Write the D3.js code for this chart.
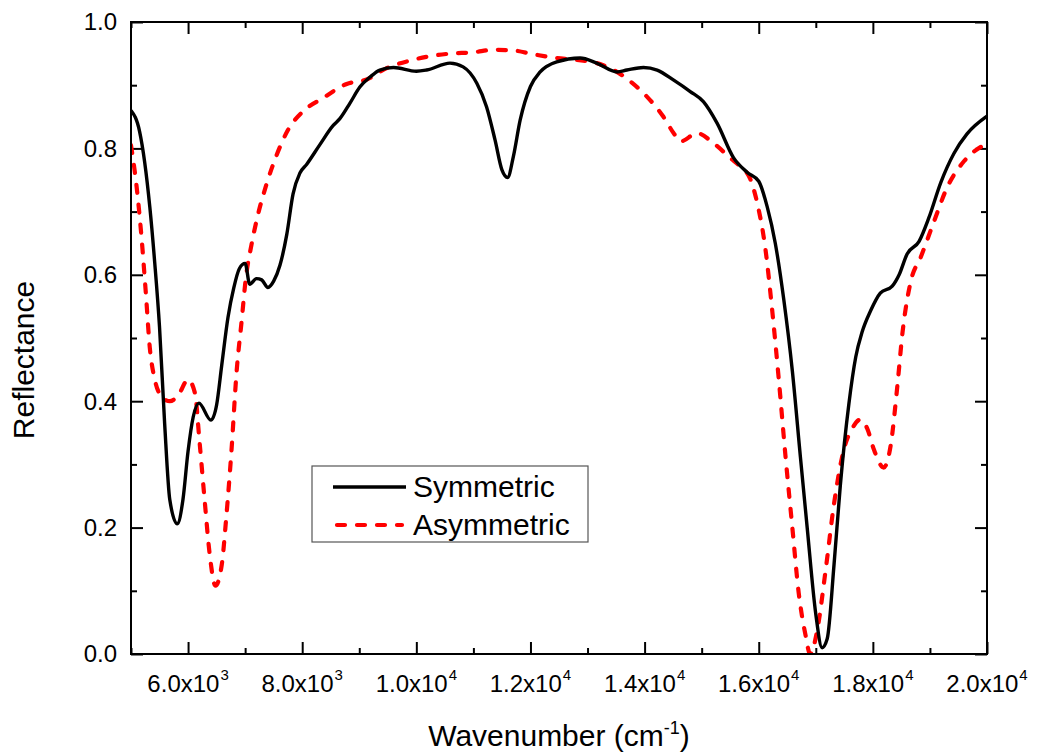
<!DOCTYPE html>
<html><head><meta charset="utf-8">
<script src="https://cdn.jsdelivr.net/npm/d3@7"></script>
<style>
body{margin:0;background:#fff}
text{font-family:"Liberation Sans",Arial,sans-serif;fill:#000}
</style>
</head><body>
<svg id="c" width="1037" height="755"></svg>
<script>
// ---- data ----
const symWn = [5000,5150,5330,5415,5500,5590,5680,5810,5910,6000,6090,6190,6400,6500,6590,6700,6800,6900,7000,7080,7200,7290,7400,7500,7610,7730,7840,7960,8080,8310,8540,8660,8840,9010,9190,9360,9600,10000,10180,10590,10820,11060,11230,11380,11500,11600,11700,11820,12000,12170,12460,12870,13160,13520,13690,13980,14220,14510,14800,15030,15270,15560,15800,16000,16150,16290,16440,16590,16730,16850,17000,17110,17200,17320,17430,17580,17700,17810,17960,18130,18340,18460,18600,18810,18980,19190,19420,19650,20000];
const symR  = [0.860,0.827,0.707,0.620,0.517,0.364,0.244,0.206,0.244,0.321,0.375,0.397,0.370,0.394,0.457,0.533,0.579,0.610,0.618,0.585,0.594,0.592,0.580,0.590,0.615,0.664,0.728,0.761,0.775,0.806,0.836,0.847,0.872,0.897,0.913,0.924,0.928,0.922,0.924,0.935,0.929,0.903,0.866,0.813,0.766,0.754,0.787,0.845,0.898,0.921,0.937,0.943,0.935,0.921,0.924,0.928,0.924,0.908,0.890,0.874,0.840,0.785,0.762,0.748,0.707,0.650,0.560,0.447,0.312,0.199,0.063,0.010,0.024,0.142,0.267,0.396,0.470,0.509,0.543,0.571,0.582,0.600,0.633,0.653,0.690,0.746,0.792,0.823,0.851];
const asymWn = [5000,5090,5180,5260,5330,5415,5530,5680,5825,6000,6120,6200,6290,6380,6480,6590,6670,6760,6850,6940,7010,7110,7230,7370,7550,7750,8020,8370,8780,9130,9480,9890,10180,10590,11000,11350,11700,12050,12460,12810,13160,13460,13750,14040,14330,14510,14630,14920,15210,15500,15680,15850,15970,16120,16230,16350,16470,16590,16700,16820,16900,17020,17170,17320,17490,17640,17780,17900,18020,18190,18310,18430,18520,18660,18840,19070,19300,19600,20000];
const asymR  = [0.805,0.746,0.664,0.571,0.484,0.435,0.408,0.400,0.409,0.434,0.413,0.337,0.244,0.157,0.108,0.141,0.217,0.321,0.446,0.528,0.593,0.647,0.697,0.742,0.789,0.829,0.859,0.880,0.902,0.909,0.927,0.939,0.945,0.950,0.952,0.956,0.955,0.949,0.943,0.940,0.935,0.924,0.906,0.882,0.850,0.824,0.811,0.824,0.808,0.785,0.771,0.752,0.715,0.639,0.549,0.436,0.312,0.199,0.097,0.030,0.000,0.035,0.131,0.238,0.323,0.357,0.371,0.357,0.323,0.295,0.329,0.425,0.509,0.588,0.628,0.684,0.738,0.780,0.808];
const xMajor = [6000,8000,10000,12000,14000,16000,18000,20000];
const xMinor = [5000,7000,9000,11000,13000,15000,17000,19000];
const yMajor = [0,0.2,0.4,0.6,0.8,1.0];
const yMinor = [0.1,0.3,0.5,0.7,0.9];
const seriesNames = ["Symmetric","Asymmetric"];
const xTitle = "Wavenumber (cm";
const yTitle = "Reflectance";

// ---- layout ----
const svg = d3.select("#c");
const m = {l:131, t:22, r:50, b:101};
const W = 1037 - m.l - m.r, H = 755 - m.t - m.b;
const x = d3.scaleLinear().domain([5000,20000]).range([0,W]);
const y = d3.scaleLinear().domain([0,1]).range([H,0]);
const g = svg.append("g").attr("transform",`translate(${m.l},${m.t})`);

svg.append("defs").append("clipPath").attr("id","clip")
  .append("rect").attr("x",0).attr("y",0).attr("width",W).attr("height",H);

// ---- ticks (inward) ----
function ticks(gen, vals, size, tr){
  const a = g.append("g").attr("transform",tr)
    .call(gen.tickValues(vals).tickSize(-size).tickFormat(""));
  a.select(".domain").remove();
  a.selectAll("line").attr("stroke","#000").attr("stroke-width",2);
}
ticks(d3.axisBottom(x), xMajor, 12, `translate(0,${H})`);
ticks(d3.axisBottom(x), xMinor, 6, `translate(0,${H})`);
ticks(d3.axisTop(x), xMajor, 12, `translate(0,0)`);
ticks(d3.axisTop(x), xMinor, 6, `translate(0,0)`);
ticks(d3.axisLeft(y), yMajor, 12, `translate(0,0)`);
ticks(d3.axisLeft(y), yMinor, 6, `translate(0,0)`);
ticks(d3.axisRight(y), yMajor, 12, `translate(${W},0)`);
ticks(d3.axisRight(y), yMinor, 6, `translate(${W},0)`);

// ---- tick labels ----
const xl = g.append("g").selectAll("text").data(xMajor).join("text")
  .attr("x",d=>x(d)).attr("y",H+38).attr("text-anchor","middle")
  .attr("font-size",24);
xl.each(function(d){
  const e = Math.floor(Math.log10(d));
  const mant = (d/Math.pow(10,e)).toFixed(1);
  const t = d3.select(this);
  t.append("tspan").text(mant+"x10");
  t.append("tspan").attr("font-size",15).attr("dy",-12).attr("dx",1).text(e);
});
g.append("g").selectAll("text").data(yMajor).join("text")
  .attr("x",-14).attr("y",d=>y(d)).attr("dy","0.35em")
  .attr("text-anchor","end").attr("font-size",24)
  .text(d=>d.toFixed(1));

// ---- axis titles ----
const xt = svg.append("text").attr("x",m.l+W/2).attr("y",746)
  .attr("text-anchor","middle").attr("font-size",30);
xt.append("tspan").text(xTitle);
xt.append("tspan").attr("font-size",18).attr("dy",-12).text("-1");
xt.append("tspan").attr("dy",12).text(")");
svg.append("text").attr("transform","translate(34,360) rotate(-90)")
  .attr("text-anchor","middle").attr("font-size",30).text(yTitle);

// ---- lines ----
const line = d3.line().x(d=>x(d[0])).y(d=>y(d[1])).curve(d3.curveMonotoneX);
const symData = symWn.map((w,i)=>[w,symR[i]]);
const asymData = asymWn.map((w,i)=>[w,asymR[i]]);
const lg = g.append("g").attr("clip-path","url(#clip)");
lg.append("path").datum(asymData).attr("d",line).attr("fill","none")
  .attr("stroke","#ff0000").attr("stroke-width",4.2).attr("stroke-linecap","round")
  .attr("stroke-dasharray","8,12");
lg.append("path").datum(symData).attr("d",line).attr("fill","none")
  .attr("stroke","#000").attr("stroke-width",3.4).attr("stroke-linejoin","round");

// ---- frame ----
g.append("rect").attr("x",0).attr("y",0).attr("width",W).attr("height",H)
  .attr("fill","none").attr("stroke","#000").attr("stroke-width",2);

// ---- legend ----
const leg = svg.append("g");
leg.append("rect").attr("x",312).attr("y",466).attr("width",276).attr("height",76)
  .attr("fill","#fff").attr("stroke","#555").attr("stroke-width",1.2);
const styles = [{c:"#000",w:3.4,d:null,cap:"butt"},{c:"#ff0000",w:4.2,d:"8,12",cap:"round"}];
seriesNames.forEach((n,i)=>{
  const yy = 487 + i*38;
  leg.append("line").attr("x1",i?337:333).attr("x2",i?402:406).attr("y1",yy).attr("y2",yy)
    .attr("stroke",styles[i].c).attr("stroke-width",styles[i].w)
    .attr("stroke-linecap",styles[i].cap)
    .attr("stroke-dasharray",styles[i].d);
  leg.append("text").attr("x",413).attr("y",yy+10).attr("font-size",30).text(n);
});
</script>
</body></html>
